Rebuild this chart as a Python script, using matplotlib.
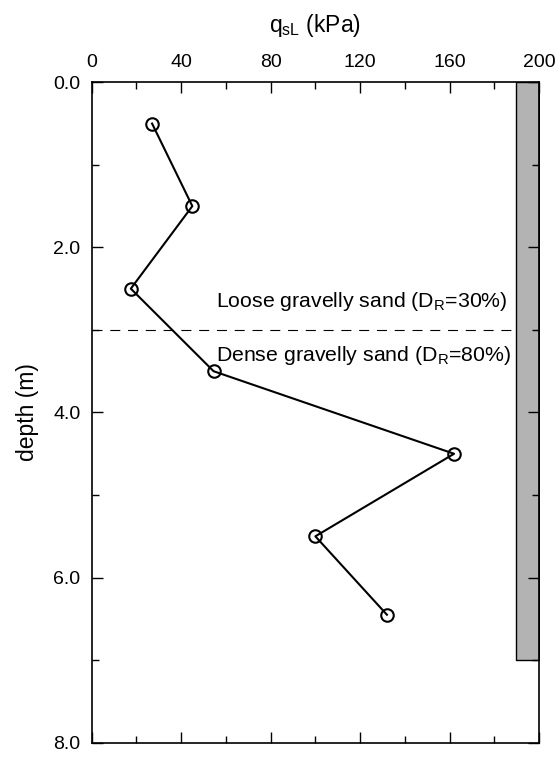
import matplotlib
matplotlib.use('Agg')
import matplotlib.pyplot as plt
from matplotlib.ticker import MultipleLocator

plt.rcParams['font.family'] = ['Liberation Sans', 'DejaVu Sans']
plt.rcParams['mathtext.fontset'] = 'custom'
plt.rcParams['mathtext.rm'] = 'Liberation Sans'

# measured shaft friction vs depth
qsl = [27, 45, 17.5, 54.5, 162, 100, 132]
depth = [0.5, 1.5, 2.5, 3.5, 4.5, 5.5, 6.45]

# pile shown as gray strip on the right
pile_x = [189.5, 200]
pile_depth = [0, 7.0]

layer_boundary = 3.0
layer_labels = ['Loose gravelly sand (D$_\\mathregular{R}$=30%)',
                'Dense gravelly sand (D$_\\mathregular{R}$=80%)']

fig = plt.figure(figsize=(5.58, 7.57), dpi=100)
ax = fig.add_axes([0.1643, 0.0189, 0.966 - 0.1643, 0.8913 - 0.0189])

ax.fill_betweenx(pile_depth, pile_x[0], pile_x[1], facecolor='#b3b3b3',
                 edgecolor='black', linewidth=1.0, zorder=1)
ax.plot([0, pile_x[0]], [layer_boundary, layer_boundary], color='black',
        linestyle=(0, (9, 7)), linewidth=0.8, zorder=2)
ax.plot(qsl, depth, color='black', linewidth=1.5, marker='o', markersize=9,
        markerfacecolor='none', markeredgewidth=1.5, zorder=3)

ax.text(55.5, 2.72, layer_labels[0], fontsize=15.3, va='baseline')
ax.text(55.5, 3.38, layer_labels[1], fontsize=15.3, va='baseline')

ax.set_xlim(0, 200)
ax.set_ylim(8, 0)
ax.xaxis.set_major_locator(MultipleLocator(40))
ax.xaxis.set_minor_locator(MultipleLocator(20))
ax.yaxis.set_major_locator(MultipleLocator(2))
ax.yaxis.set_minor_locator(MultipleLocator(1))
ax.yaxis.set_major_formatter(matplotlib.ticker.FormatStrFormatter('%.1f'))

ax.tick_params(which='both', direction='in', top=True, bottom=True,
               left=True, right=True, labeltop=True, labelbottom=False,
               width=1.0, labelsize=14)
ax.tick_params(which='major', length=8, pad=8)
ax.tick_params(which='minor', length=5)
ax.xaxis.set_label_position('top')
ax.set_xlabel('q$_\\mathregular{sL}$ (kPa)', fontsize=16.5, labelpad=16)
ax.set_ylabel('depth (m)', fontsize=16.5, labelpad=10)
for s in ax.spines.values():
    s.set_linewidth(1.2)

fig.savefig('out.png', dpi=100)
